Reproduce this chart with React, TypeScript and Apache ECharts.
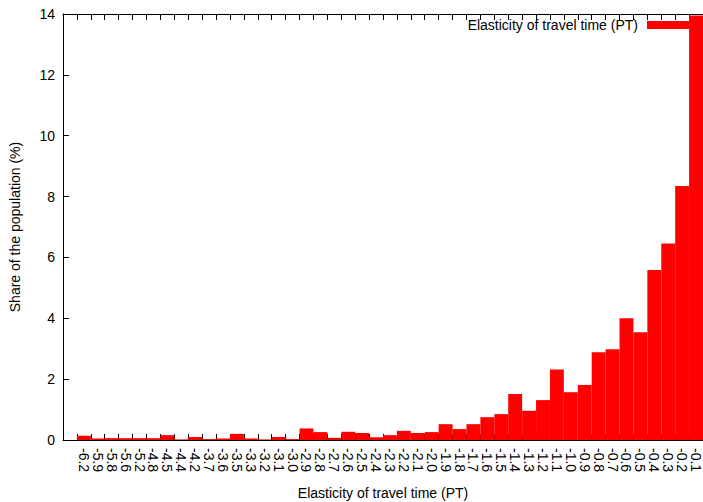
import React, { useEffect, useRef } from "react";
import * as echarts from "echarts";

const categories = ["-6.2","-5.9","-5.8","-5.6","-5.2","-4.8","-4.5","-4.4","-4.2","-3.7","-3.6","-3.5","-3.3","-3.2","-3.1","-3.0","-2.9","-2.8","-2.7","-2.6","-2.5","-2.4","-2.3","-2.2","-2.1","-2.0","-1.9","-1.8","-1.7","-1.6","-1.5","-1.4","-1.3","-1.2","-1.1","-1.0","-0.9","-0.8","-0.7","-0.6","-0.5","-0.4","-0.3","-0.2","-0.1"];
const shareValues = [0.14,0.05,0.06,0.06,0.06,0.06,0.16,0.02,0.1,0.03,0.05,0.2,0.05,0.02,0.1,0.03,0.38,0.26,0.07,0.27,0.23,0.09,0.16,0.3,0.23,0.26,0.52,0.36,0.52,0.75,0.85,1.51,0.96,1.31,2.32,1.57,1.81,2.88,2.98,4.0,3.54,5.59,6.46,8.35,13.95];
const yTicks = { min: 0, max: 14, interval: 2 };
const seriesName = "Elasticity of travel time (PT)";
const xTitle = "Elasticity of travel time (PT)";
const yTitle = "Share of the population (%)";

const FONT = "'Liberation Sans', Arial, Helvetica, sans-serif";
const FS = 14;

export default function App() {
  const ref = useRef<HTMLDivElement>(null);
  useEffect(() => {
    if (!ref.current) return;
    const chart = echarts.init(ref.current, null, { renderer: "svg" });
    const cats = ["", ...categories];
    const vals = [null, ...shareValues];
    const axisLine = { show: true, lineStyle: { color: "#000", width: 1 } };
    chart.setOption({
      animation: false,
      backgroundColor: "#fff",
      textStyle: { fontFamily: FONT, color: "#000" },
      grid: { left: 63, top: 14, right: 0, bottom: 62, containLabel: false, outerBoundsMode: "none" },
      legend: {
        show: true,
        data: [seriesName],
        right: 14,
        top: 18,
        padding: 0,
        align: "right",
        icon: "rect",
        itemWidth: 42,
        itemHeight: 8,
        textStyle: { fontFamily: FONT, fontSize: FS, color: "#000", padding: [0, 4, 0, 0] },
        selectedMode: false,
      },
      xAxis: [
        {
          type: "category",
          data: cats,
          position: "bottom",
          boundaryGap: true,
          axisLine,
          axisTick: { show: true, inside: true, length: 6, lineStyle: { color: "#000" }, interval: 0 },
          axisLabel: { interval: 0, rotate: -90, fontSize: FS, color: "#000", fontFamily: FONT, margin: 8 },
          splitLine: { show: false },
          name: xTitle,
          nameLocation: "middle",
          nameGap: 46,
          nameTextStyle: { fontSize: FS, color: "#000", fontFamily: FONT },
        },
        {
          type: "category",
          data: cats,
          position: "top",
          boundaryGap: true,
          axisLine,
          axisTick: { show: true, inside: true, length: 6, lineStyle: { color: "#000" }, interval: 0 },
          axisLabel: { show: false },
          splitLine: { show: false },
        },
      ],
      yAxis: [
        {
          type: "value",
          min: yTicks.min,
          max: yTicks.max,
          interval: yTicks.interval,
          position: "left",
          axisLine,
          axisTick: { show: true, inside: true, length: 6, lineStyle: { color: "#000" } },
          axisLabel: { fontSize: FS, color: "#000", fontFamily: FONT, margin: 8 },
          splitLine: { show: false },
          name: yTitle,
          nameLocation: "middle",
          nameGap: 41,
          nameTextStyle: { fontSize: FS, color: "#000", fontFamily: FONT },
        },
      ],
      series: [
        {
          name: seriesName,
          type: "bar",
          data: vals,
          xAxisIndex: 0,
          yAxisIndex: 0,
          barCategoryGap: "0%",
          barWidth: "100%",
          itemStyle: { color: "#ff0000" },
          z: 1,
        },
      ],
    });
    return () => chart.dispose();
  }, []);
  return <div ref={ref} style={{ position: "absolute", left: 0, top: 0, width: 703, height: 502 }} />;
}
